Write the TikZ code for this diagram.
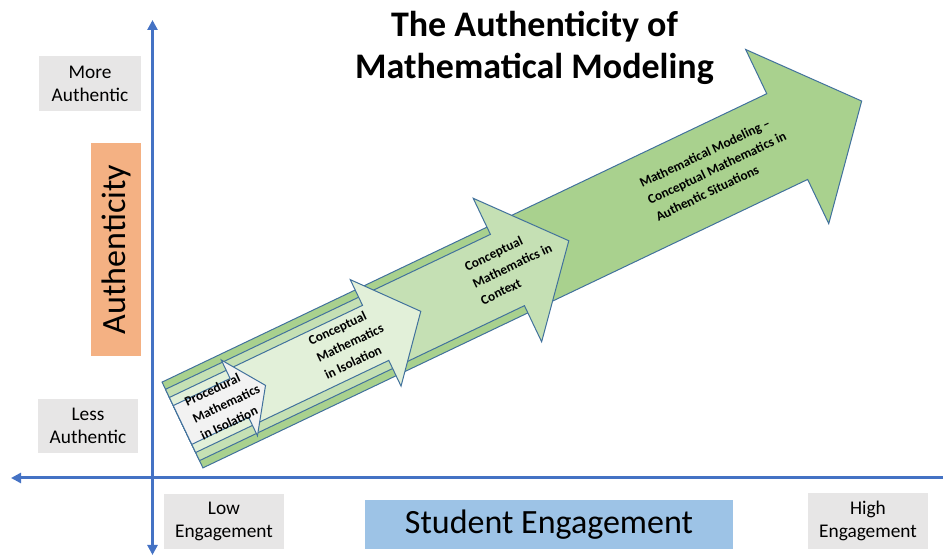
\documentclass[tikz,border=0pt]{standalone}
\usepackage{fontspec}
\setmainfont{Carlito}
\usetikzlibrary{arrows.meta}
\definecolor{AxisBlue}{HTML}{4472C4}
\definecolor{OutlineBlue}{HTML}{41719C}
\definecolor{LabelGray}{HTML}{E7E6E6}
\definecolor{AuthOrange}{HTML}{F4B183}
\definecolor{EngageBlue}{HTML}{9DC3E6}
\definecolor{GreenDark}{HTML}{A9D18E}
\definecolor{GreenMid}{HTML}{C5E0B4}
\definecolor{GreenLight}{HTML}{E2F0D9}
\definecolor{PaleGray}{HTML}{F2F2F2}

\begin{document}
\begin{tikzpicture}[
        x=0.75pt, y=0.75pt,
        axis/.style={line width=2.25pt, color=AxisBlue},
        axistip/.tip={Triangle[length=7.5pt,width=7.5pt]},
        level/.style={draw=OutlineBlue, line width=0.75pt, line join=miter},
        corner/.style={fill=LabelGray, font=\fontsize{14.5}{17.5}\selectfont, align=center, inner sep=0pt},
        axislabel/.style={font=\fontsize{25.5}{30}\selectfont, inner sep=0pt},
        steptext/.style={rotate=25.5, anchor=west, align=left, inner sep=0pt, font=\fontsize{10}{14}\selectfont\bfseries}
    ]
    \useasboundingbox (0,0) rectangle (943,556);

    % Title
    \node (title) [font=\fontsize{27}{32}\selectfont\bfseries, align=center] at (534.5,508) {The Authenticity of\\Mathematical Modeling};

    % Axes
    \coordinate (ytop) at (152.5,536);
    \coordinate (ybot) at (152.5,1);
    \coordinate (xleft) at (11,78);
    \coordinate (xright) at (943,78);
    \draw [axis, axistip-axistip] (ybot) -- (ytop);
    \draw [axis, -axistip] (xright) -- (xleft);

    % Axis end labels
    \node (more) [corner, minimum width=76.5pt, minimum height=41.25pt] at (90,472) {More\\Authentic};
    \node (less) [corner, minimum width=75pt, minimum height=40.5pt] at (88,130) {Less\\Authentic};
    \node (low) [corner, minimum width=90pt, minimum height=41.25pt] at (224,34.5) {Low\\Engagement};
    \node (high) [corner, minimum width=90pt, minimum height=42pt] at (868,35) {High\\Engagement};

    % Axis titles
    \node (authenticity) [axislabel, fill=AuthOrange, rotate=90, minimum width=159.75pt, minimum height=37.5pt] at (116,306.5) {Authenticity};
    \node (engagement) [axislabel, fill=EngageBlue, minimum width=276pt, minimum height=36.75pt] at (549,31.5) {Student Engagement};

    % Nested arrows, drawn along the rising axis
    \begin{scope}[shift={(182.5,131)}, rotate=25.5]
        \filldraw [level, fill=GreenDark] (0,47.5) -- (670,47.5) -- (670,96.5) -- (752.5,0) -- (670,-96.5) -- (670,-47.5) -- (0,-47.5) -- cycle;
        \filldraw [level, fill=GreenMid] (0,39.5) -- (360,39.5) -- (360,79.5) -- (428,0) -- (360,-79.5) -- (360,-39.5) -- (0,-39.5) -- cycle;
        \filldraw [level, fill=GreenLight] (0,30.5) -- (214,30.5) -- (214,59) -- (264,0) -- (214,-59) -- (214,-30.5) -- (0,-30.5) -- cycle;
        \filldraw [level, fill=PaleGray] (0,21.5) -- (63,21.5) -- (63,42) -- (92,0) -- (63,-42) -- (63,-21.5) -- (0,-21.5) -- cycle;

        \node (procedural) [steptext] at (12,0.5) {Procedural\\Mathematics\\in Isolation};
        \node (isolation) [steptext] at (150,2) {Conceptual\\Mathematics\\in Isolation};
        \node (context) [steptext] at (323,2) {Conceptual\\Mathematics in\\Context};
        \node (modeling) [steptext] at (517,2) {Mathematical Modeling –\\Conceptual Mathematics in\\Authentic Situations};
    \end{scope}
\end{tikzpicture}
\end{document}
